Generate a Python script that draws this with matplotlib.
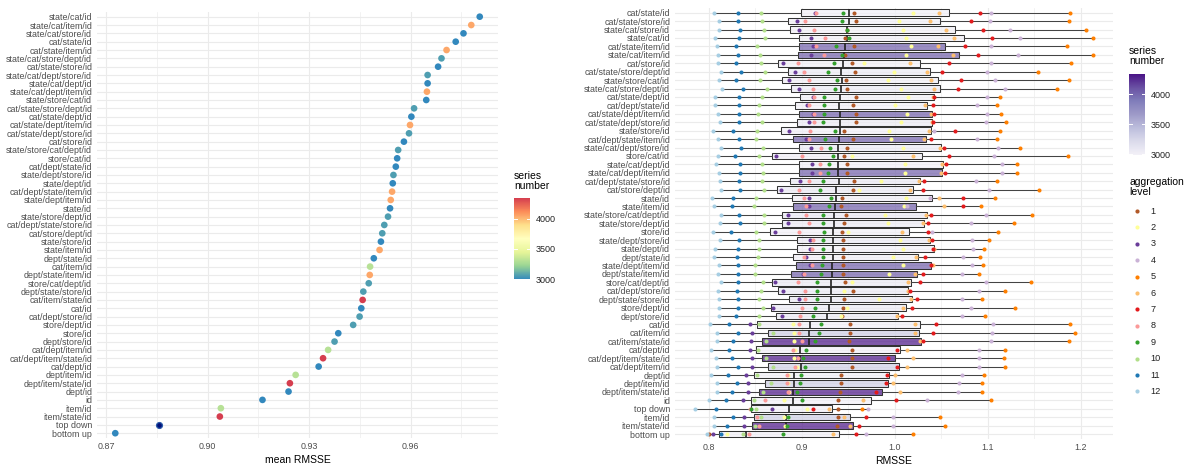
import numpy as np
import matplotlib
matplotlib.use("Agg")
import matplotlib.pyplot as plt
from matplotlib.colors import LinearSegmentedColormap, Normalize
from matplotlib.cm import ScalarMappable

plt.rcParams['font.family'] = ['Liberation Sans', 'DejaVu Sans']

# ---------------- data: left panel (mean RMSSE) ----------------
left_hierarchies = [
    "state/cat/id", "state/cat/item/id", "state/cat/store/id", "cat/state/id",
    "cat/state/item/id", "state/cat/store/dept/id", "cat/state/store/id",
    "state/cat/dept/store/id", "state/cat/dept/id", "state/cat/dept/item/id",
    "state/store/cat/id", "cat/state/store/dept/id", "cat/state/dept/id",
    "cat/state/dept/item/id", "cat/state/dept/store/id", "cat/store/id",
    "state/store/cat/dept/id", "store/cat/id", "cat/dept/state/id",
    "state/dept/store/id", "state/dept/id", "cat/dept/state/item/id",
    "state/dept/item/id", "state/id", "state/store/dept/id",
    "cat/dept/state/store/id", "cat/store/dept/id", "state/store/id",
    "state/item/id", "dept/state/id", "cat/item/id", "dept/state/item/id",
    "store/cat/dept/id", "dept/state/store/id", "cat/item/state/id", "cat/id",
    "cat/dept/store/id", "store/dept/id", "store/id", "dept/store/id",
    "cat/dept/item/id", "cat/dept/item/state/id", "cat/dept/id", "dept/item/id",
    "dept/item/state/id", "dept/id", "id", "item/id", "item/state/id",
    "top down", "bottom up",
]
left_mean_rmsse = [
    0.9804, 0.9779, 0.9756, 0.9733, 0.9706, 0.9691, 0.9681, 0.9650, 0.9650,
    0.9648, 0.9646, 0.9610, 0.9602, 0.9598, 0.9595, 0.9580, 0.9563, 0.9560,
    0.9556, 0.9549, 0.9547, 0.9545, 0.9541, 0.9539, 0.9533, 0.9522, 0.9516,
    0.9512, 0.9508, 0.9491, 0.9480, 0.9479, 0.9476, 0.9460, 0.9458, 0.9454,
    0.9449, 0.9430, 0.9386, 0.9375, 0.9356, 0.9341, 0.9328, 0.9260, 0.9243,
    0.9239, 0.9162, 0.9039, 0.9036, 0.8855, 0.8727,
]
left_series_number = [
    2992, 4043, 2992, 2992, 4043, 3059, 2992, 3059, 2992, 4043,
    2992, 3059, 2992, 4043, 3059, 2992, 3059, 2992, 2992, 3059,
    2992, 4043, 4043, 2992, 3059, 3059, 3059, 2992, 4043, 2992,
    3306, 4043, 3059, 3059, 4340, 2992, 3059, 3059, 2992, 3059,
    3306, 4340, 2992, 3306, 4340, 2992, 2992, 3306, 4340, 2992, 2992,
]
highlight_name = "top down"

# ---------------- data: right panel (RMSSE per aggregation level 1..12) ----------------
right_hierarchies = [
    "cat/state/id", "cat/state/store/id", "state/cat/store/id", "state/cat/id",
    "cat/state/item/id", "state/cat/item/id", "cat/store/id",
    "cat/state/store/dept/id", "state/store/cat/id", "state/cat/store/dept/id",
    "cat/state/dept/id", "cat/dept/state/id", "cat/state/dept/item/id",
    "cat/state/dept/store/id", "state/store/id", "cat/dept/state/item/id",
    "state/cat/dept/store/id", "store/cat/id", "state/cat/dept/id",
    "state/cat/dept/item/id", "cat/dept/state/store/id", "cat/store/dept/id",
    "state/id", "state/item/id", "state/store/cat/dept/id", "state/store/dept/id",
    "store/id", "state/dept/store/id", "state/dept/id", "dept/state/id",
    "state/dept/item/id", "dept/state/item/id", "store/cat/dept/id",
    "cat/dept/store/id", "dept/state/store/id", "store/dept/id", "dept/store/id",
    "cat/id", "cat/item/id", "cat/item/state/id", "cat/dept/id",
    "cat/dept/item/state/id", "cat/dept/item/id", "dept/id", "dept/item/id",
    "dept/item/state/id", "id", "top down", "item/id", "item/state/id", "bottom up",
]
rmsse_rows = [
    [.9564, 1.0192, .9140, 1.1040, 1.1880, 1.0470, 1.0920, .9155, .9445, .8560, .8310, .8057],
    [.9578, 1.0048, .8947, 1.1020, 1.1878, 1.0378, 1.0823, .9033, .9428, .8567, .8316, .8108],
    [.9490, 1.0085, .8972, 1.1240, 1.2054, 1.0550, 1.0952, .9133, .9488, .8592, .8330, .8111],
    [.9460, 1.0122, .9094, 1.1347, 1.2136, 1.0637, 1.1050, .9248, .9506, .8600, .8323, .8065],
    [.9560, 1.0172, .9120, 1.1040, 1.1856, 1.0460, 1.0759, .9150, .9367, .8513, .8290, .8086],
    [.9464, 1.0117, .9094, 1.1329, 1.2129, 1.0630, 1.0891, .9238, .9431, .8549, .8316, .8093],
    [.9535, .9667, .8800, 1.1030, 1.1892, 1.0163, 1.0586, .8954, .9345, .8560, .8290, .8093],
    [.9571, .9991, .8926, 1.0996, 1.1544, 1.0342, 1.0508, .9022, .9277, .8603, .8344, .8133],
    [.9471, .9923, .8865, 1.1081, 1.1871, 1.0386, 1.0708, .9073, .9381, .8545, .8290, .8104],
    [.9489, 1.0063, .8972, 1.1182, 1.1745, 1.0425, 1.0676, .9123, .9360, .8620, .8362, .8140],
    [.9578, 1.0138, .9120, 1.0996, 1.1136, 1.0414, 1.0425, .9134, .9241, .8567, .8323, .8065],
    [.9553, 1.0002, .9058, 1.0881, 1.1104, 1.0324, 1.0414, .9080, .9241, .8542, .8323, .8065],
    [.9578, 1.0127, .9120, 1.0989, 1.1147, 1.0390, 1.0421, .9134, .9238, .8527, .8323, .8100],
    [.9578, 1.0066, .9080, 1.0982, 1.1197, 1.0396, 1.0414, .9130, .9231, .8567, .8323, .8118],
    [.9453, .9941, .8865, 1.0425, 1.1136, 1.0371, 1.0648, .9087, .9356, .8513, .8262, .8047],
    [.9553, .9955, .9040, 1.0881, 1.1100, 1.0317, 1.0386, .9076, .9248, .8506, .8323, .8093],
    [.9482, 1.0084, .9098, 1.1114, 1.1348, 1.0486, 1.0529, .9205, .9302, .8585, .8344, .8126],
    [.9453, .9535, .8721, 1.1071, 1.1860, 1.0192, 1.0586, .8997, .9331, .8535, .8276, .8093],
    [.9482, 1.0109, .9105, 1.1157, 1.1318, 1.0504, 1.0547, .9195, .9291, .8574, .8330, .8072],
    [.9482, 1.0109, .9105, 1.1150, 1.1311, 1.0500, 1.0539, .9195, .9284, .8578, .8334, .8108],
    [.9560, .9848, .8980, 1.0873, 1.1103, 1.0260, 1.0317, .9080, .9230, .8567, .8326, .8118],
    [.9546, .9614, .8775, 1.1013, 1.1551, 1.0163, 1.0300, .8969, .9195, .8596, .8334, .8126],
    [.9428, 1.0117, .9076, 1.0378, 1.1078, 1.0479, 1.0730, .9026, .9313, .8502, .8255, .8036],
    [.9421, 1.0099, .9076, 1.0128, 1.0927, 1.0529, 1.0737, .9041, .9291, .8480, .8251, .8057],
    [.9470, .9894, .8847, 1.0981, 1.1473, 1.0332, 1.0386, .9041, .9230, .8592, .8326, .8126],
    [.9453, .9923, .8847, 1.0820, 1.1286, 1.0306, 1.0353, .9080, .9227, .8590, .8330, .8118],
    [.9433, .9500, .8710, 1.0397, 1.1114, 1.0080, 1.0360, .8965, .9238, .8504, .8233, .8038],
    [.9446, 1.0056, .9087, 1.0827, 1.1013, 1.0365, 1.0400, .9123, .9223, .8542, .8326, .8118],
    [.9446, 1.0091, .9087, 1.0845, 1.0960, 1.0425, 1.0414, .9105, .9223, .8538, .8316, .8065],
    [.9446, .9984, .9044, 1.0730, 1.0917, 1.0228, 1.0324, .9026, .9223, .8524, .8305, .8057],
    [.9440, 1.0084, .9087, 1.0834, 1.0946, 1.0407, 1.0390, .9105, .9213, .8499, .8316, .8104],
    [.9446, .9941, .9015, 1.0727, 1.0910, 1.0217, 1.0299, .9018, .9205, .8495, .8309, .8097],
    [.9464, .9535, .8710, 1.0978, 1.1462, 1.0138, 1.0271, .8954, .9166, .8578, .8309, .8126],
    [.9546, .9453, .8800, 1.0906, 1.1186, 1.0138, 1.0163, .9033, .9166, .8560, .8298, .8100],
    [.9453, .9832, .8972, 1.0727, 1.0935, 1.0170, 1.0242, .9033, .9166, .8538, .8316, .8108],
    [.9439, .9490, .8692, 1.0816, 1.1293, 1.0091, 1.0188, .8997, .9141, .8585, .8309, .8111],
    [.9428, .9417, .8782, 1.0727, 1.0971, 1.0025, 1.0073, .8980, .9123, .8542, .8290, .8108],
    [.9518, .8900, .8441, 1.1053, 1.1885, 1.0217, 1.0439, .8972, .9205, .8542, .8215, .8011],
    [.9518, .8915, .8459, 1.1042, 1.1939, 1.0217, 1.0407, .8972, .9184, .8692, .8316, .8083],
    [.9510, .8915, .8452, 1.1031, 1.1878, 1.0271, 1.0299, .9004, .9141, .8610, .8255, .8083],
    [.9535, .8926, .8441, 1.0910, 1.1186, 1.0134, 1.0027, .8908, .9040, .8531, .8215, .8018],
    [.9535, .8918, .8459, 1.0906, 1.1179, 1.0200, .9930, .8954, .9008, .8613, .8251, .8075],
    [.9535, .8950, .8459, 1.0906, 1.1186, 1.0134, 1.0020, .8926, .9033, .8692, .8316, .8083],
    [.9423, .8850, .8398, 1.0727, 1.0960, 1.0002, .9912, .8836, .8987, .8520, .8208, .8018],
    [.9417, .8854, .8416, 1.0691, 1.0942, .9984, .9901, .8836, .8979, .8667, .8305, .8083],
    [.9410, .8861, .8416, 1.0684, 1.0935, 1.0055, .9797, .8847, .8951, .8585, .8244, .8083],
    [.9392, .8807, .8362, 1.0350, 1.1031, .9660, 1.0013, .8603, .8997, .8488, .8183, .8000],
    [.9392, .9051, .8674, .9715, .9643, .9295, .9116, .8440, .8452, .8506, .8075, .7849],
    [.9385, .8810, .8377, .9984, 1.0486, .9453, .9690, .8513, .8847, .8560, .8262, .8054],
    [.9374, .8818, .8377, .9984, 1.0539, .9522, .9614, .8541, .8836, .8495, .8199, .8054],
    [.8003, .8197, .8045, .9690, 1.0199, .9338, .9580, .8430, .8800, .8362, .8129, .7975],
]
aggregation_levels = [str(i) for i in range(1, 13)]
level_colors = ['#b15928', '#ffff99', '#6a3d9a', '#cab2d6', '#ff7f00', '#fdbf6f',
                '#e31a1c', '#fb9a99', '#33a02c', '#b2df8a', '#1f78b4', '#a6cee3']

# ---------------- scales ----------------
spectral = LinearSegmentedColormap.from_list(
    "spec", ['#3288bd', '#99d594', '#e6f598', '#ffffbf', '#fee08b', '#fc8d59', '#d53e4f'])
purples = LinearSegmentedColormap.from_list(
    "purp", ['#f2f0f7', '#dadaeb', '#bcbddc', '#9e9ac8', '#807dba', '#6a51a3', '#4a1486'])
norm = Normalize(vmin=min(left_series_number), vmax=max(left_series_number))
series_of = dict(zip(left_hierarchies, left_series_number))

W, H = 1188, 466
fig = plt.figure(figsize=(W / 100, H / 100), dpi=100)


def rect(x0, y0, x1, y1):
    return [x0 / W, 1 - y1 / H, (x1 - x0) / W, (y1 - y0) / H]


TXT = '#4d4d4d'
GRID = '#ebebeb'


def style_axes(ax):
    for s in ax.spines.values():
        s.set_visible(False)
    ax.tick_params(axis='both', which='both', length=0, labelsize=6.4, labelcolor=TXT)
    ax.tick_params(axis='y', pad=3.5)
    ax.tick_params(axis='x', pad=3.0)
    ax.grid(True, which='major', axis='both', color=GRID, lw=0.8)
    ax.grid(True, which='minor', axis='x', color=GRID, lw=0.45)
    ax.set_axisbelow(True)


# ---------------- left panel ----------------
axL = fig.add_axes(rect(97, 11.7, 498, 438.2))
nL = len(left_hierarchies)
yL = np.arange(nL)[::-1]
cols = np.array([spectral(norm(s)) for s in left_series_number])
mask = np.array([h != highlight_name for h in left_hierarchies])
xs = np.array(left_mean_rmsse)
axL.scatter(xs[mask], yL[mask], s=23, c=cols[mask], linewidths=0, zorder=3)
axL.scatter(xs[~mask], yL[~mask], s=18, c='#00107a', edgecolors='#2a5aa8',
            linewidths=0.9, zorder=3)
axL.set_xlim(0.8673, 0.9858)
axL.set_ylim(-0.6, nL - 0.4)
axL.set_yticks(yL)
axL.set_yticklabels(left_hierarchies)
axL.set_xticks([0.87, 0.90, 0.93, 0.96])
axL.set_xticklabels(['0.87', '0.90', '0.93', '0.96'])
axL.set_xticks([0.885, 0.915, 0.945, 0.975], minor=True)
style_axes(axL)
axL.set_xlabel('mean RMSSE', fontsize=7.5, labelpad=2.5, color='black')

# ---------------- right panel ----------------
axR = fig.add_axes(rect(675, 7.6, 1113, 439.1))
nR = len(right_hierarchies)
yR = np.arange(nR)[::-1]
bp = axR.boxplot(rmsse_rows, positions=yR, orientation='horizontal', whis=(0, 100),
                 widths=0.78, patch_artist=True, showfliers=False, showcaps=False,
                 medianprops=dict(color='#222222', lw=1.2),
                 boxprops=dict(edgecolor='#333333', lw=0.75),
                 whiskerprops=dict(color='#444444', lw=0.75), zorder=2)
for patch, name in zip(bp['boxes'], right_hierarchies):
    r, g, b, _ = purples(norm(series_of[name]))
    patch.set_facecolor((r, g, b, 0.7))
arr = np.array(rmsse_rows)
for j, lev in enumerate(aggregation_levels):
    axR.scatter(arr[:, j], yR, s=8.5, color=level_colors[j], linewidths=0, zorder=4)
axR.set_xlim(0.7634, 1.2348)
axR.set_ylim(-0.6, nR - 0.4)
axR.set_yticks(yR)
axR.set_yticklabels(right_hierarchies)
axR.set_xticks([0.8, 0.9, 1.0, 1.1, 1.2])
axR.set_xticklabels(['0.8', '0.9', '1.0', '1.1', '1.2'])
axR.set_xticks([0.85, 0.95, 1.05, 1.15], minor=True)
style_axes(axR)
axR.set_xlabel('RMSSE', fontsize=7.5, labelpad=2.5, color='black')

# ---------------- legends ----------------
def colorbar(x0, y0, x1, y1, cmap):
    cax = fig.add_axes(rect(x0, y0, x1, y1))
    cb = fig.colorbar(ScalarMappable(norm=norm, cmap=cmap), cax=cax)
    cb.outline.set_visible(False)
    cb.set_ticks([3000, 3500, 4000])
    cb.set_ticklabels(['3000', '3500', '4000'])
    cax.tick_params(length=0, pad=4, labelsize=6.5, labelcolor='#222222')
    for t in [3000, 3500, 4000]:
        cax.plot([0, 0.2], [t, t], color='white', lw=0.7)
        cax.plot([0.8, 1.0], [t, t], color='white', lw=0.7)
    cax.set_xlim(0, 1)
    return cax

colorbar(514, 198, 530, 279.5, spectral)
colorbar(1129, 74, 1145, 154.5, purples)

axO = fig.add_axes([0, 0, 1, 1], zorder=-1)
axO.set_xlim(0, W)
axO.set_ylim(H, 0)
axO.axis('off')
axO.text(514, 171, 'series\nnumber', fontsize=7.5, va='top', ha='left', linespacing=1.05)
axO.text(1129, 46, 'series\nnumber', fontsize=7.5, va='top', ha='left', linespacing=1.05)
axO.text(1129, 177, 'aggregation\nlevel', fontsize=7.5, va='top', ha='left', linespacing=1.05)
for k, lev in enumerate(aggregation_levels):
    yk = 211 + 16.4 * k
    axO.scatter([1137], [yk], s=9, color=level_colors[k], linewidths=0)
    axO.text(1150.5, yk, lev, fontsize=6.6, va='center', ha='left', color='#222222')

fig.savefig('out.png', dpi=100)
